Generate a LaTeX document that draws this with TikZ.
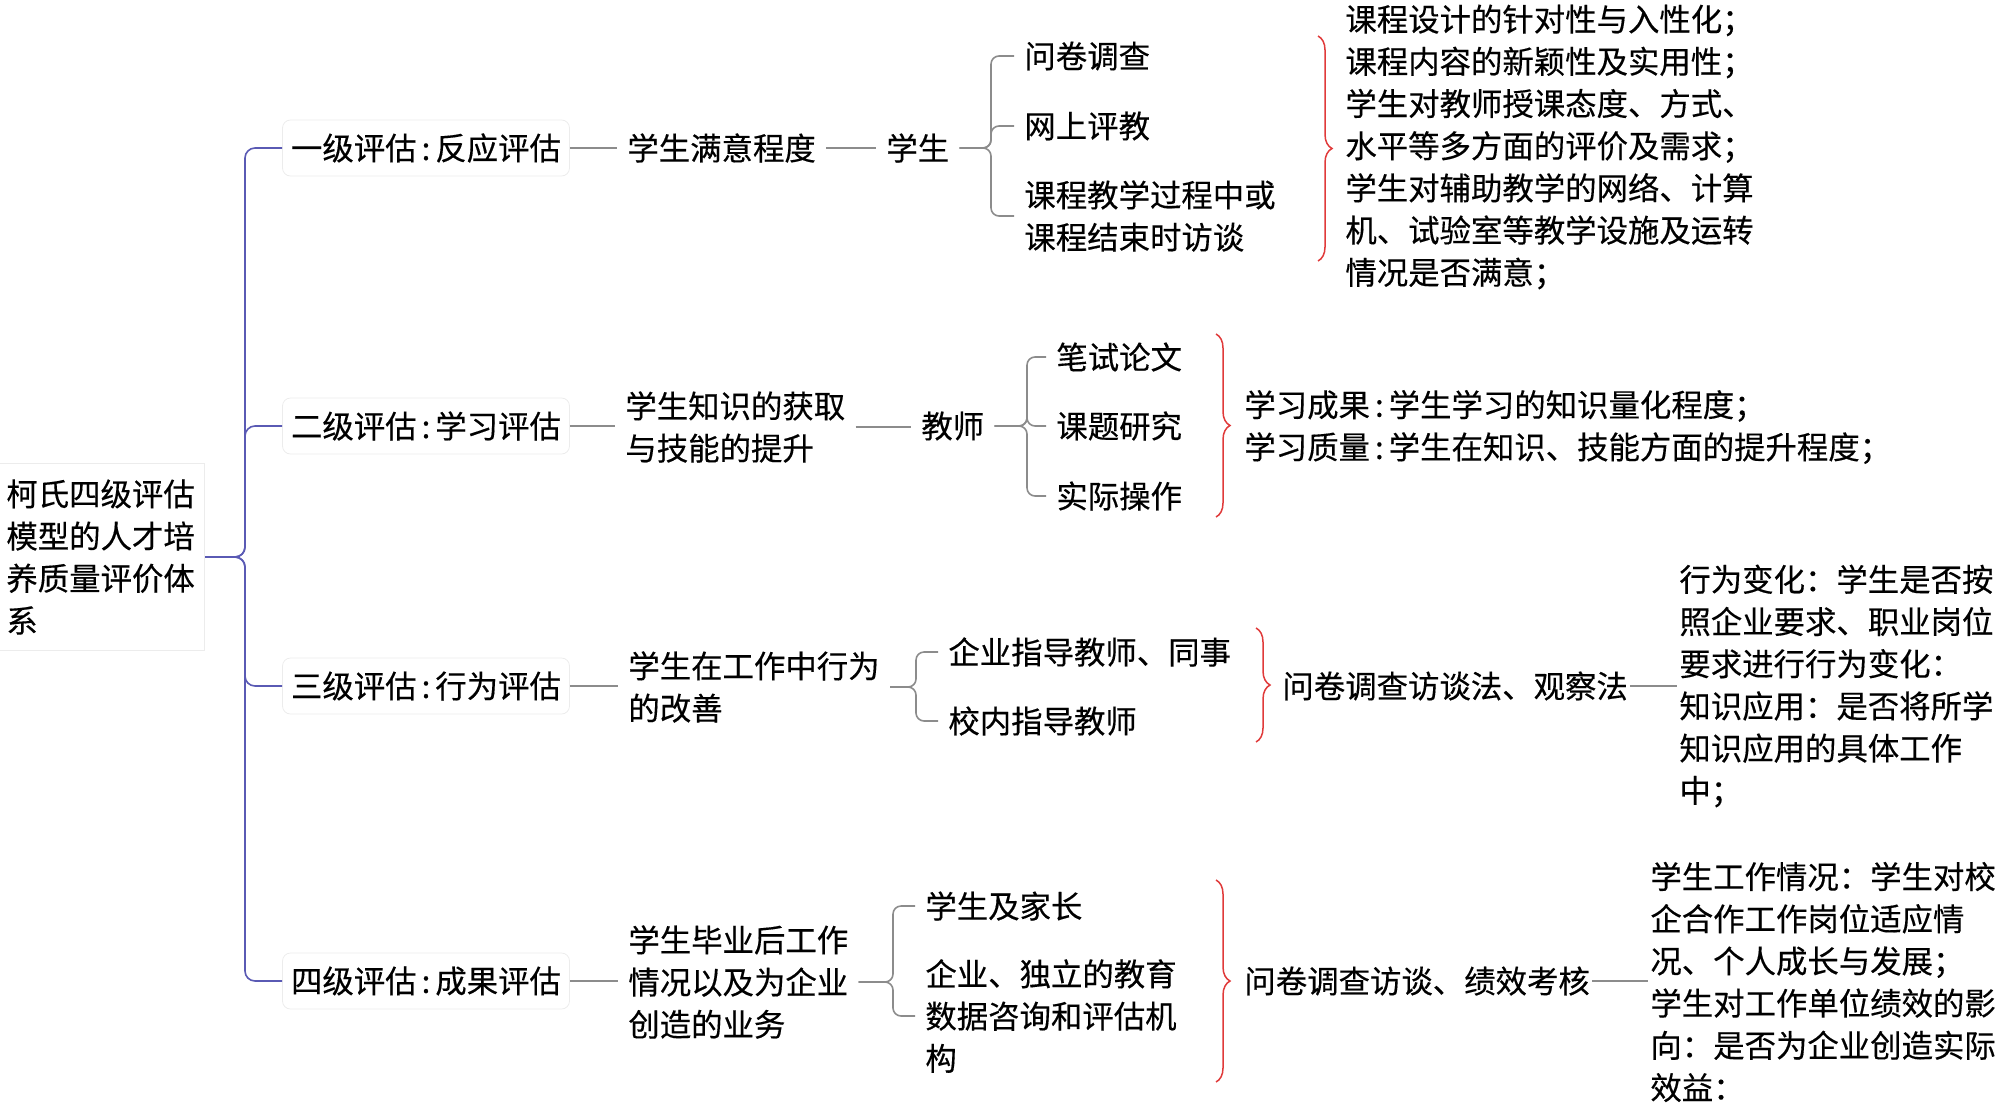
\documentclass[tikz,border=0pt]{standalone}
\usepackage{fontspec}
\setmainfont{Noto Sans CJK SC}[BoldFont=Noto Sans CJK SC, BoldFeatures={FakeBold=0.35}]
\usetikzlibrary{decorations.pathreplacing}
\definecolor{trunkc}{HTML}{5A5AB4}
\definecolor{linec}{HTML}{8C8C8C}
\definecolor{bracec}{HTML}{E03A3A}
\definecolor{boxc}{HTML}{ECECEC}
\newcommand{\hc}{\hspace{2.5pt}:\hspace{2.5pt}}
\begin{document}
\begin{tikzpicture}[x=0.5pt,y=-0.5pt,
  every node/.style={font=\fontsize{15.7}{21.1}\selectfont\bfseries, inner ysep=1pt},
  txt/.style={anchor=west, align=left, inner xsep=5pt},
  tight/.style={anchor=west, align=left, inner xsep=1pt},
  lvl/.style={draw=boxc, rounded corners=4pt, minimum width=143.5pt, minimum height=28pt, inner sep=0pt, anchor=center},
  gline/.style={draw=linec, line width=0.8pt},
  bline/.style={draw=linec, line width=0.8pt, rounded corners=4pt},
  tline/.style={draw=trunkc, line width=0.8pt, rounded corners=5pt},
  rbrace/.style={draw=bracec, line width=0.75pt, decorate, decoration={brace, amplitude=7pt}}
]
\useasboundingbox (0,0) rectangle (2000,1108);

% root
\node[txt, draw=boxc, inner ysep=8pt] (root) at (-4,557) {柯氏四级评估\\模型的人才培\\养质量评价体\\系};

% level 1
\node[lvl] (l1) at (426,148) {一级评估\hc 反应评估};
\node[lvl] (l2) at (426,426) {二级评估\hc 学习评估};
\node[lvl] (l3) at (426,686) {三级评估\hc 行为评估};
\node[lvl] (l4) at (426,981) {四级评估\hc 成果评估};

\coordinate (tx) at (245,0);
\foreach \l in {l1,l2,l3,l4}{
  \draw[tline] (root.east) -- (root.east -| tx) |- (\l.west);
}

% row 1
\node[txt] (s1) at (617,148) {学生满意程度};
\node[txt] (p1) at (876,148) {学生};
\node[txt] (i11) at (1014,56) {问卷调查};
\node[txt] (i12) at (1014,126) {网上评教};
\node[txt] (i13) at (1014,216) {课程教学过程中或\\课程结束时访谈};
\node[txt] (t1) at (1335,147) {课程设计的针对性与入性化；\\课程内容的新颖性及实用性；\\学生对教师授课态度、方式、\\水平等多方面的评价及需求；\\学生对辅助教学的网络、计算\\机、试验室等教学设施及运转\\情况是否满意；};
\draw[gline] (l1.east) -- (l1.east -| s1.west);
\draw[gline] (s1.east) -- (s1.east -| p1.west);
\coordinate (b1) at (991,0);
\foreach \i in {i11,i12,i13}{
  \draw[bline] (p1.east) -- (p1.east -| b1) |- (\i.west);
}
\coordinate (r1a) at (1318,36);
\coordinate (r1b) at (1318,261);
\draw[rbrace] (r1a) -- (r1b);

% row 2
\node[txt] (s2) at (615,427) {学生知识的获取\\与技能的提升};
\node[txt] (p2) at (911,426) {教师};
\node[txt] (i21) at (1046,357) {笔试论文};
\node[txt] (i22) at (1046,426) {课题研究};
\node[txt] (i23) at (1046,496) {实际操作};
\node[txt] (t2) at (1234,427) {学习成果\hc 学生学习的知识量化程度；\\学习质量\hc 学生在知识、技能方面的提升程度；};
\draw[gline] (l2.east) -- (l2.east -| s2.west);
\draw[gline] (s2.east) -- (s2.east -| p2.west);
\coordinate (b2) at (1027,0);
\foreach \i in {i21,i22,i23}{
  \draw[bline] (p2.east) -- (p2.east -| b2) |- (\i.west);
}
\coordinate (r2a) at (1216,334);
\coordinate (r2b) at (1216,517);
\draw[rbrace] (r2a) -- (r2b);

% row 3
\node[txt] (s3) at (618,687) {学生在工作中行为\\的改善};
\node[txt] (i31) at (938,652) {企业指导教师、同事};
\node[txt] (i32) at (938,721) {校内指导教师};
\node[tight] (m3) at (1280,686) {问卷调查访谈法、观察法};
\node[tight] (t3) at (1677,686) {行为变化：学生是否按\\照企业要求、职业岗位\\要求进行行为变化：\\知识应用：是否将所学\\知识应用的具体工作\\中；};
\draw[gline] (l3.east) -- (l3.east -| s3.west);
\coordinate (b3) at (916,0);
\foreach \i in {i31,i32}{
  \draw[bline] (s3.east) -- (s3.east -| b3) |- (\i.west);
}
\coordinate (r3a) at (1256,628);
\coordinate (r3b) at (1256,742);
\draw[rbrace] (r3a) -- (r3b);
\draw[gline] (m3.east) -- (m3.east -| t3.west);

% row 4
\node[txt] (s4) at (618,982) {学生毕业后工作\\情况以及为企业\\创造的业务};
\node[txt] (i41) at (915,906) {学生及家长};
\node[txt] (i42) at (915,1016) {企业、独立的教育\\数据咨询和评估机\\构};
\node[tight] (m4) at (1242,981) {问卷调查访谈、绩效考核};
\node[tight] (t4) at (1648,982) {学生工作情况：学生对校\\企合作工作岗位适应情\\况、个人成长与发展；\\学生对工作单位绩效的影\\向：是否为企业创造实际\\效益：};
\draw[gline] (l4.east) -- (l4.east -| s4.west);
\coordinate (b4) at (893,0);
\foreach \i in {i41,i42}{
  \draw[bline] (s4.east) -- (s4.east -| b4) |- (\i.west);
}
\coordinate (r4a) at (1216,880);
\coordinate (r4b) at (1216,1082);
\draw[rbrace] (r4a) -- (r4b);
\draw[gline] (m4.east) -- (m4.east -| t4.west);
\end{tikzpicture}
\end{document}
